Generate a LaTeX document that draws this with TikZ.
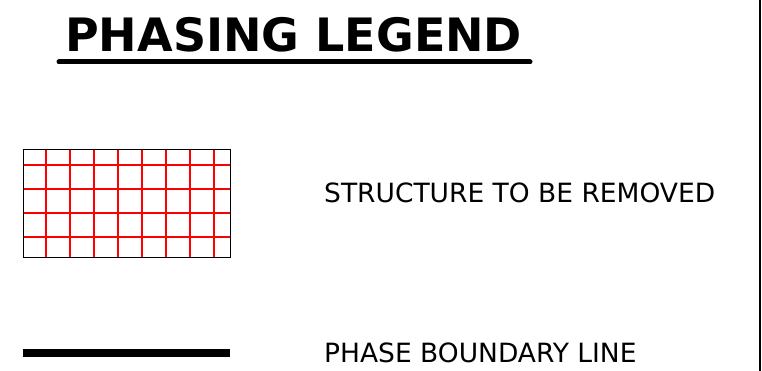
\documentclass[tikz,border=0pt]{standalone}
\usepackage{fontspec}
\setmainfont{DejaVu Sans}
\usetikzlibrary{positioning}
\begin{document}
\begin{tikzpicture}[x=1pt, y=-1pt,
  headline/.style = {anchor=base west, inner sep=0pt, font=\fontsize{46}{50}\selectfont\bfseries},
  legendtext/.style = {anchor=base west, inner sep=0pt, font=\fontsize{26.5}{30}\selectfont},
  gridline/.style = {red, line width=1.7pt}]
\useasboundingbox (0,0) rectangle (762,371);

\node[headline] (title) at (65,52) {PHASING LEGEND};
\draw[line width=5pt, line cap=round] (59,62) -- (530,62);

% grid symbol
\foreach \x in {46,70,...,214}
  \draw[gridline] (\x,149) -- (\x,257);
\foreach \y in {165,189,213,237}
  \draw[gridline] (23,\y) -- (230,\y);
\node[draw, line width=1pt, minimum width=207pt, minimum height=108pt, inner sep=0pt, anchor=north west] (grid) at (23,149) {};
\node[legendtext] (removed) at (324,203) {STRUCTURE TO BE REMOVED};

% boundary symbol
\node[fill=black, minimum width=207pt, minimum height=8.5pt, inner sep=0pt, anchor=west] (bar) at (23,353) {};
\node[legendtext] (boundary) at (324,362) {PHASE BOUNDARY LINE};

\draw[line width=2pt] (760,0) -- (760,371);
\end{tikzpicture}
\end{document}
